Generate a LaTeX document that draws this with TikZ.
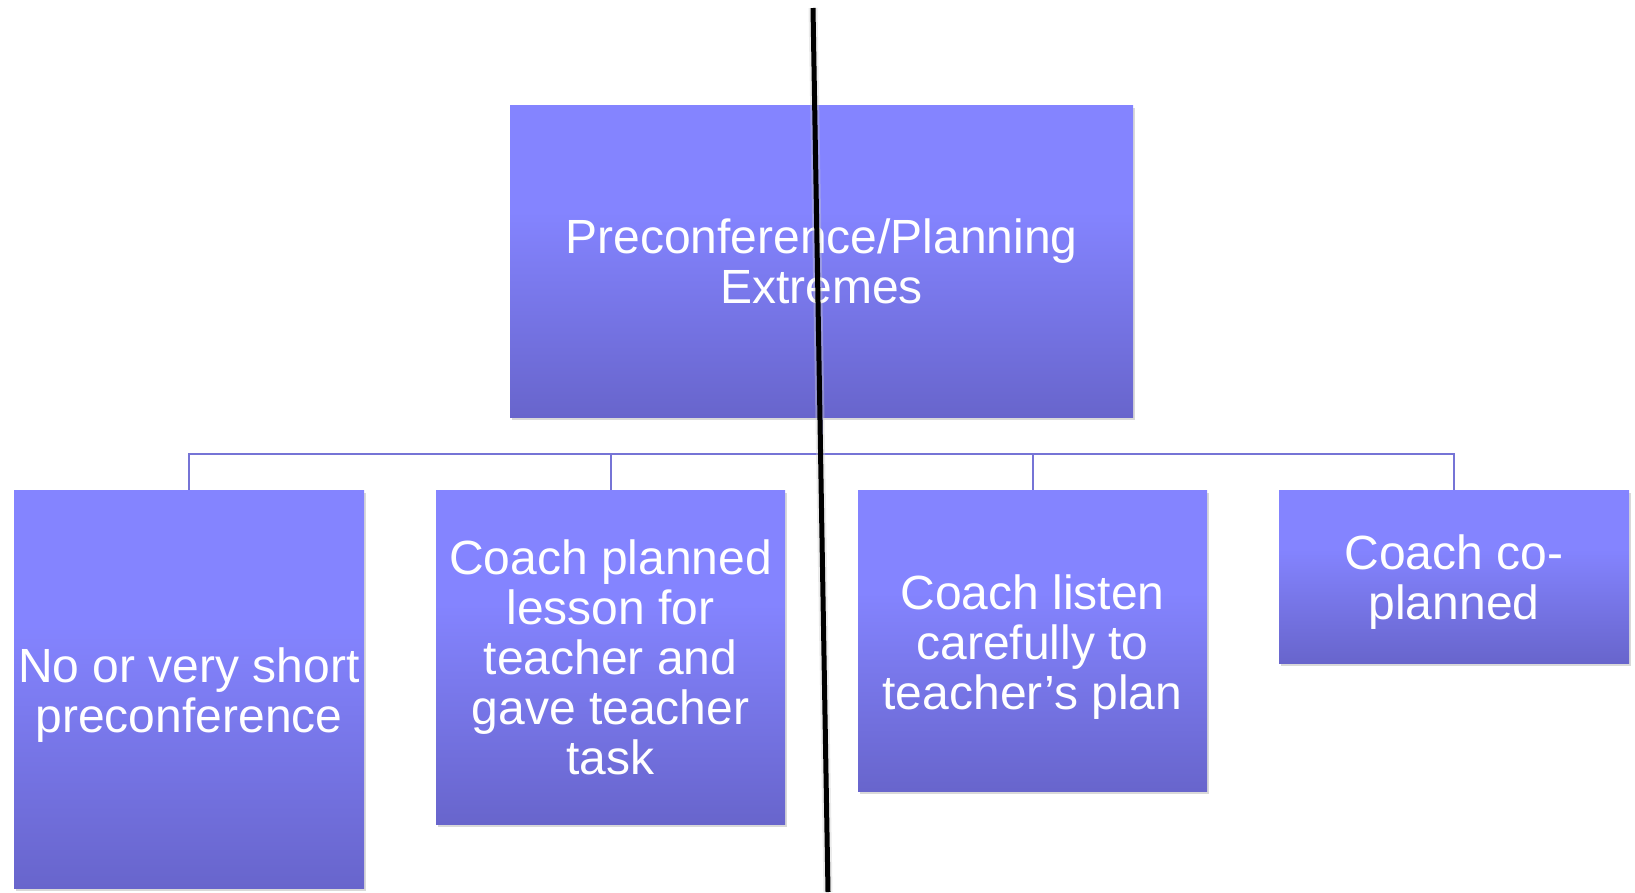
\documentclass[tikz,border=0pt]{standalone}
\usepackage{fontspec}
\setmainfont{Liberation Sans}
\usetikzlibrary{shadows}
\definecolor{boxtop}{RGB}{132,132,255}
\definecolor{boxbot}{RGB}{104,101,204}
\definecolor{connc}{RGB}{118,116,214}
\pgfdeclareverticalshading{boxshade}{100bp}{color(0bp)=(boxbot); color(25bp)=(boxbot); color(58bp)=(boxtop); color(75bp)=(boxtop); color(100bp)=(boxtop)}
\tikzset{
  orgbox/.style={rectangle, inner sep=0pt, shading=boxshade, text=white,
    font=\fontsize{48}{50}\selectfont, align=center,
    drop shadow={shadow xshift=2pt, shadow yshift=-3pt, opacity=0.25, fill=black!60}},
  lowtext/.style={text height=#1},
  conn/.style={draw=connc, line width=2pt},
  divider/.style={draw=black, line width=5pt}
}
\begin{document}
\begin{tikzpicture}[x=1pt,y=-1pt]
\useasboundingbox (0,0) rectangle (1635,892);
\node[orgbox, minimum width=623pt, minimum height=312pt] (top) at (821.5,261) {Preconference/Planning\\Extremes};
\node[orgbox, lowtext=96pt, minimum width=350pt, minimum height=398pt] (b1) at (189,689) {No or very short\\preconference};
\node[orgbox, minimum width=349pt, minimum height=334pt] (b2) at (610.5,657) {Coach planned\\lesson for\\teacher and\\gave teacher\\task};
\node[orgbox, lowtext=147pt, minimum width=349pt, minimum height=301pt] (b3) at (1032.5,640.5) {Coach listen\\carefully to\\teacher’s plan};
\node[orgbox, lowtext=96pt, minimum width=350pt, minimum height=173pt] (b4) at (1454,576.5) {Coach co-\\planned};
\coordinate (bus) at (821.5,453.5);
\draw[conn] (top.south) -- (bus);
\draw[conn] (bus) -| (b1.north);
\draw[conn] (bus) -| (b2.north);
\draw[conn] (bus) -| (b3.north);
\draw[conn] (bus) -| (b4.north);
\coordinate (ltop) at (813,8);
\coordinate (lbot) at (828,892);
\draw[draw=black!20, line width=9pt, opacity=0.4] (ltop) -- (lbot);
\draw[divider] (ltop) -- (lbot);
\end{tikzpicture}
\end{document}
